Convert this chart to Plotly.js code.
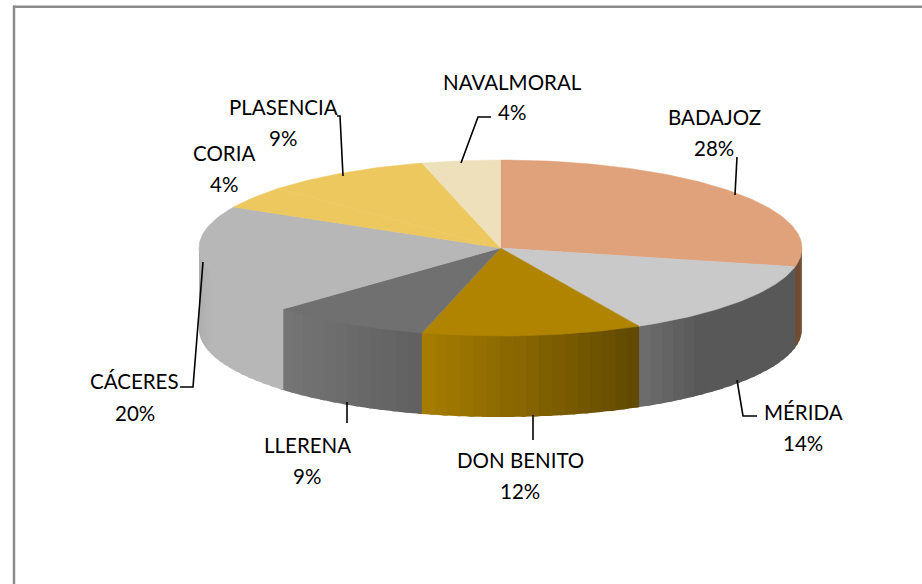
<!DOCTYPE html>
<html><head><meta charset="utf-8">
<script src="https://cdn.plot.ly/plotly-3.0.1.min.js"></script>
<style>html,body{margin:0;padding:0;background:#fff}#c{width:922px;height:584px}</style>
</head><body><div id="c"></div>
<script>
// Data
const categories = ["BADAJOZ","MÉRIDA","DON BENITO","LLERENA","CÁCERES","CORIA","PLASENCIA","NAVALMORAL"];
const shares = [28.4,14,11.8,8.6,19.9,4.1,9,4.2];
// Styles
const topColors = ["#e0a27a","#c9c9c9","#b08400","#707070","#b7b7b7","#ecc85e","#ecc85e","#eee0bb"];
const sideStart = ["#6f4c33","#585858","#5f4800","#606060","#b7b7b7","#b7b7b7","#b7b7b7","#b7b7b7"];
const sideEnd   = ["#6f4c33","#6e6e6e","#a87e00","#767676","#a9a9a9","#b7b7b7","#b7b7b7","#b7b7b7"];
const sideHold  = [0,0.72,0,0,0.6,0,0,0];
// Projection
const cx=500.5, cy=248, rx=301.5, ry=88, depth=81;
const TOTAL = shares.reduce((a,b)=>a+b,0);
const px = d => cx + rx*Math.sin(d*Math.PI/180);
const py = (d,z) => cy - ry*Math.cos(d*Math.PI/180) + (z||0);
function arc(a,b,z){const n=Math.max(2,Math.ceil(Math.abs(b-a)));const xs=[],ys=[];for(let i=0;i<=n;i++){const d=a+(b-a)*i/n;xs.push(px(d));ys.push(py(d,z));}return [xs,ys];}
function hex(c){return [1,3,5].map(i=>parseInt(c.substr(i,2),16));}
function mix(c1,c2,t){const A=hex(c1),B=hex(c2);return "rgb("+A.map((v,i)=>Math.round(v+(B[i]-v)*t)).join(",")+")";}
function poly(xs,ys,color,lw){return {type:"scatter",mode:"lines",x:xs,y:ys,fill:"toself",fillcolor:color,line:{color:color,width:lw},hoverinfo:"skip",showlegend:false};}
const traces=[];
let start=0;
const bounds=shares.map(v=>{const a=start;start+=v/TOTAL*360;return [a,start];});
// Side wall: overlapping shaded strips painted in angle order, tucked under the top face
bounds.forEach((bd,i)=>{
  const a=Math.max(bd[0],90), b=Math.min(bd[1],270);
  if(b<=a) return;
  const strips=Math.max(1,Math.round((b-a)/2.5));
  for(let s=0;s<strips;s++){
    const s0=a+(b-a)*s/strips, s1=Math.min(270,a+(b-a)*(s+1)/strips+1);
    const up=arc(s0,s1,-3), dn=arc(s1,s0,depth);
    const f=(s+0.5)/strips, h=sideHold[i];
    const col=mix(sideStart[i],sideEnd[i],f>h?(f-h)/(1-h):0);
    traces.push({type:"scatter",mode:"none",x:up[0].concat(dn[0]),y:up[1].concat(dn[1]),fill:"toself",fillcolor:col,hoverinfo:"skip",showlegend:false});
  }
});
// Top face
bounds.forEach((bd,i)=>{
  const e=arc(bd[0],bd[1],0);
  traces.push(poly([cx].concat(e[0],[cx]),[cy].concat(e[1],[cy]),topColors[i],0.5));
});
// Leader lines (page-pixel anchors)
const leaders=[
 [[737,157],[735,195]],
 [[737,380],[743,416],[757,416]],
 [[533,415],[533,440]],
 [[347,402],[347,423]],
 [[203,262],[193,387],[180,387]],
 [[337,116],[340,116],[343,176]],
 [[461,163],[478,117],[491,117]]
];
leaders.forEach(l=>traces.push({type:"scatter",mode:"lines",x:l.map(p=>p[0]),y:l.map(p=>p[1]),line:{color:"#000",width:1.6},hoverinfo:"skip",showlegend:false}));
// Labels
const nameCX=[714,803,520,307,134.5,224,283,512];
const nameY =[117,412,460,445,381,153,107,82];
const pctY  =[148,443,491,476,413,184,138,112];
const font={family:"Lato, Carlito, sans-serif",size:20.5,color:"#000"};
const annotations=[];
categories.forEach((c,i)=>{
  annotations.push({x:nameCX[i],y:nameY[i],xref:"x",yref:"y",text:c,showarrow:false,font:font});
  annotations.push({x:nameCX[i],y:pctY[i],xref:"x",yref:"y",text:Math.round(shares[i]/TOTAL*100)+"%",showarrow:false,font:font});
});
const layout={width:922,height:584,margin:{l:0,r:0,t:0,b:0},paper_bgcolor:"#fff",plot_bgcolor:"#fff",
 xaxis:{range:[0,922],visible:false,fixedrange:true},yaxis:{range:[584,0],visible:false,fixedrange:true},annotations:annotations,showlegend:false,
 shapes:[
  {type:"line",xref:"x",yref:"y",x0:13,y0:6.7,x1:922,y1:6.7,line:{color:"#8c8c8c",width:2.5}},
  {type:"line",xref:"x",yref:"y",x0:14,y0:5.5,x1:14,y1:584,line:{color:"#8c8c8c",width:2.5}}
 ]};
Plotly.newPlot("c",traces,layout,{displayModeBar:false,staticPlot:true});
</script></body></html>
